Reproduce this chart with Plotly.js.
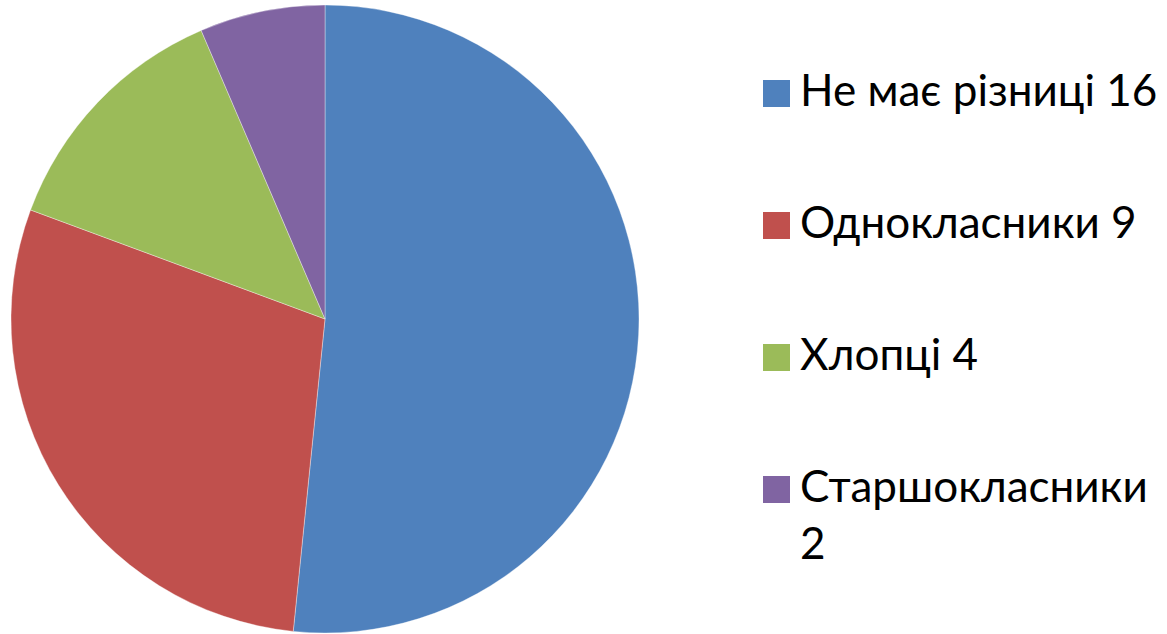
<!DOCTYPE html>
<html>
<head>
<meta charset="utf-8">
<script src="https://cdn.plot.ly/plotly-3.0.1.min.js"></script>
<style>html,body{margin:0;padding:0;background:#fff;}#chart{width:1167px;height:634px;}</style>
</head>
<body>
<div id="chart"></div>
<script>
const categories = ["Не має різниці", "Однокласники", "Хлопці", "Старшокласники"];
const values = [16, 9, 4, 2];
const colors = ["#4F81BD", "#C0504D", "#9BBB59", "#8064A2"];

const W = 1167, H = 634;
const px = (x) => x / W;
const py = (y) => 1 - y / H;

const trace = {
  type: "pie",
  labels: categories,
  values: values,
  sort: false,
  direction: "clockwise",
  rotation: 0,
  marker: { colors: colors, line: { color: "rgba(255,255,255,0.45)", width: 0.8 } },
  textinfo: "none",
  hoverinfo: "label+value",
  showlegend: false,
  domain: { x: [px(11), px(639)], y: [py(633), py(5)] }
};

// legend drawn as shapes + annotations
const fontFamily = "Lato, 'Noto Sans', sans-serif";
const fontSize = 44;
const maxTextWidth = 364;
const ctx = document.createElement("canvas").getContext("2d");
ctx.font = fontSize + "px Lato";

const legTop = 80, legStep = 132, sq = 27, sqX = 763;
const shapes = [], annotations = [];
categories.forEach((c, i) => {
  const y0 = legTop + i * legStep;
  shapes.push({
    type: "rect", xref: "paper", yref: "paper",
    x0: px(sqX), x1: px(sqX + sq), y0: py(y0 + sq), y1: py(y0),
    fillcolor: colors[i], line: { width: 0 }
  });
  const full = c + " " + values[i];
  const txt = ctx.measureText(full).width > maxTextWidth ? c + "<br>" + values[i] : full;
  annotations.push({
    xref: "paper", yref: "paper", x: px(798), y: py(y0 - 19),
    xanchor: "left", yanchor: "top", showarrow: false, align: "left",
    text: txt, font: { family: fontFamily, size: fontSize, color: "#000" }
  });
});

const layout = {
  width: W, height: H,
  margin: { l: 0, r: 0, t: 0, b: 0 },
  paper_bgcolor: "#fff",
  showlegend: false,
  shapes: shapes,
  annotations: annotations
};

Plotly.newPlot("chart", [trace], layout, { displayModeBar: false, staticPlot: true });
</script>
</body>
</html>
